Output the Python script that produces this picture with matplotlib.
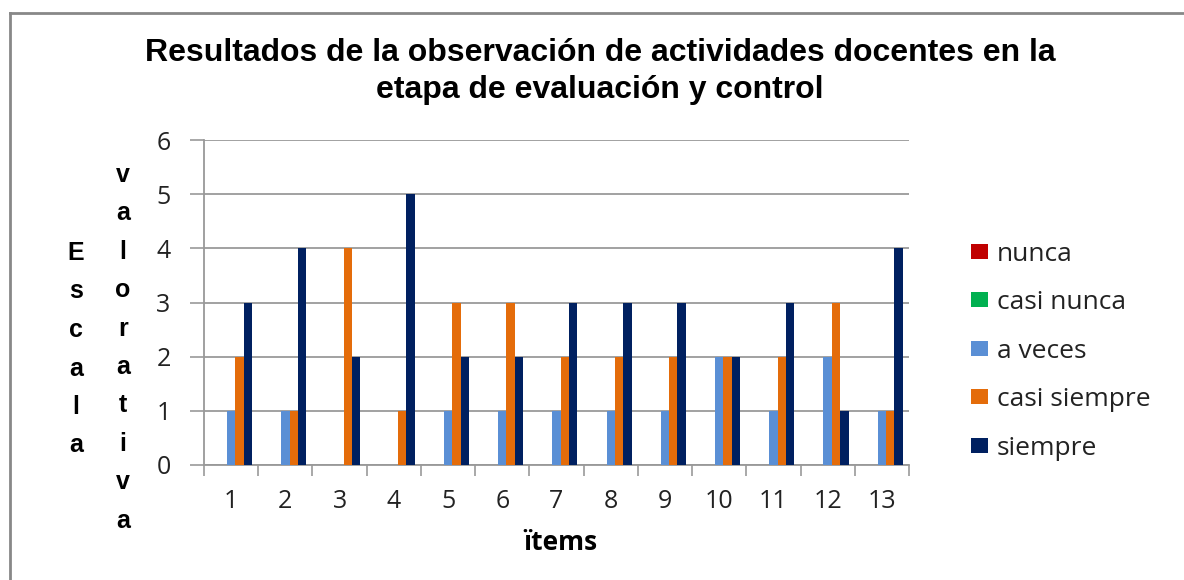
import matplotlib.pyplot as plt
import numpy as np
from matplotlib.lines import Line2D

items = ['1', '2', '3', '4', '5', '6', '7', '8', '9', '10', '11', '12', '13']
series = ['nunca', 'casi nunca', 'a veces', 'casi siempre', 'siempre']
nunca = [0, 0, 0, 0, 0, 0, 0, 0, 0, 0, 0, 0, 0]
casi_nunca = [0, 0, 0, 0, 0, 0, 0, 0, 0, 0, 0, 0, 0]
a_veces = [1, 1, 0, 0, 1, 1, 1, 1, 1, 2, 1, 2, 1]
casi_siempre = [2, 1, 4, 1, 3, 3, 2, 2, 2, 2, 2, 3, 1]
siempre = [3, 4, 2, 5, 2, 2, 3, 3, 3, 2, 3, 1, 4]
colores = ['#C00000', '#00B050', '#5A8FD5', '#E46C0A', '#002060']

W, H = 1184, 580
fig = plt.figure(figsize=(W / 100, H / 100), dpi=100)
ax = fig.add_axes([204 / W, 1 - 465 / H, 705 / W, 325 / H])

# barras agrupadas (gap ~150%)
x = np.arange(len(items))
ancho = 1 / 6.5
valores = [nunca, casi_nunca, a_veces, casi_siempre, siempre]
for i, (nom, vals, col) in enumerate(zip(series, valores, colores)):
    ax.bar(x + (i - 2) * ancho, vals, ancho, color=col, label=nom, zorder=3)

ax.set_xlim(-0.5, len(items) - 0.5)
ax.set_ylim(0, 6)
ax.set_yticks(range(7))
ax.set_yticklabels([str(v) for v in range(7)], fontsize=18, family='Open Sans', color='#222222')
ax.set_xticks(x)
ax.set_xticklabels(items, fontsize=18, family='Open Sans', color='#222222')
ax.set_xticks(np.arange(-0.5, len(items), 1), minor=True)
ax.tick_params(axis='x', which='major', length=0, pad=17)
ax.tick_params(axis='x', which='minor', length=8, color='#999999', width=1.2)
ax.tick_params(axis='y', length=10, color='#999999', width=1.2, pad=14)
ax.grid(axis='y', color='#9a9a9a', linewidth=1.3, zorder=0)
for s in ['top', 'right']:
    ax.spines[s].set_visible(False)
for s in ['left', 'bottom']:
    ax.spines[s].set_color('#999999')
    ax.spines[s].set_linewidth(1.3)

# titulo
fig.text(600 / W, 1 - 53 / H, 'Resultados de la observación de actividades docentes en la',
         ha='center', va='center', fontsize=23, fontweight='bold', family='Liberation Sans')
fig.text(600 / W, 1 - 90 / H, 'etapa de evaluación y control',
         ha='center', va='center', fontsize=23, fontweight='bold', family='Liberation Sans')

# etiqueta eje y en letras verticales
for j, c in enumerate('Escala'):
    fig.text(76 / W, 1 - (253 + j * 38.5) / H, c, ha='center', va='center',
             fontsize=18, fontweight='bold', family='Liberation Sans')
for j, c in enumerate('valorativa'):
    fig.text(123 / W, 1 - (175 + j * 38.4) / H, c, ha='center', va='center',
             fontsize=18, fontweight='bold', family='Liberation Sans')

fig.text(560 / W, 1 - 543 / H, 'ïtems', ha='center', va='center',
         fontsize=19, fontweight='bold', family='Open Sans')

leg = ax.legend(loc='upper left', bbox_to_anchor=(947 / W, 1 - 218 / H),
                bbox_transform=fig.transFigure, frameon=False,
                prop={'family': 'Open Sans', 'size': 19}, handlelength=0.64,
                handleheight=0.5, handletextpad=0.34, labelspacing=0.89)
for t in leg.get_texts():
    t.set_color('#222222')

# marco del grafico
fig.add_artist(Line2D([10 / W, 10 / W], [0, 1 - 13 / H], transform=fig.transFigure,
                      color='#888888', linewidth=2))
fig.add_artist(Line2D([10 / W, 1183 / W], [1 - 13 / H, 1 - 13 / H], transform=fig.transFigure,
                      color='#888888', linewidth=2))

plt.savefig('out.png', dpi=100)
